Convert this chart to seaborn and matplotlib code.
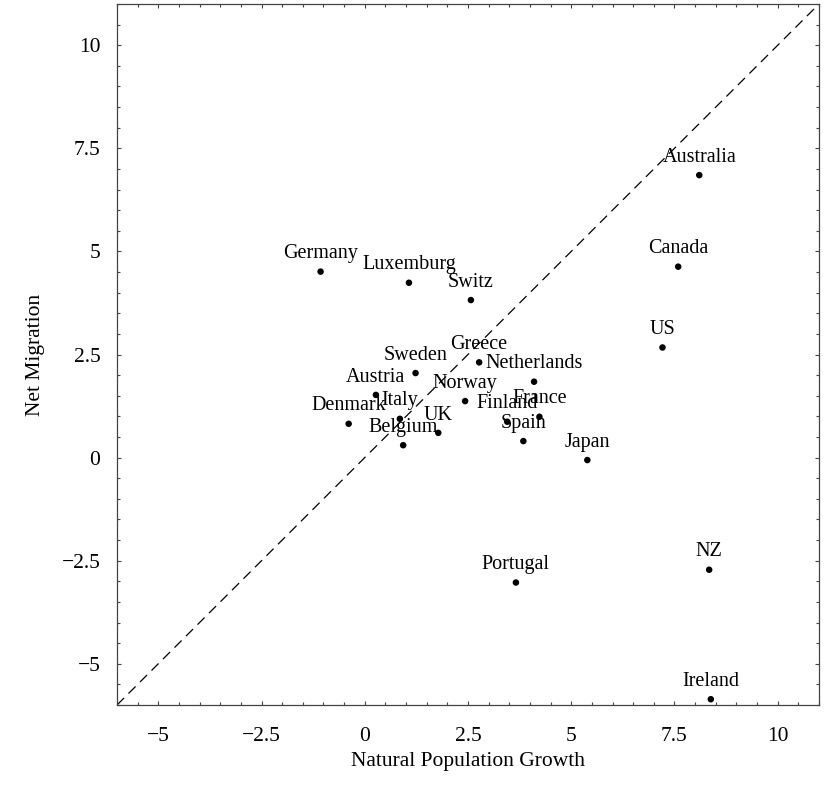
import matplotlib
matplotlib.use("Agg")
import matplotlib.pyplot as plt
from matplotlib.ticker import MultipleLocator
import seaborn as sns
import pandas as pd

countries = ["Germany", "Luxemburg", "Switz", "Greece", "Netherlands", "Sweden",
             "Austria", "Norway", "Italy", "Denmark", "UK", "Belgium", "France",
             "Finland", "Spain", "Japan", "Portugal", "Australia", "Canada", "US",
             "NZ", "Ireland"]
natural_growth = [-1.07, 1.07, 2.57, 2.77, 4.10, 1.23, 0.27, 2.43, 0.85, -0.39,
                  1.78, 0.93, 4.23, 3.45, 3.84, 5.39, 3.66, 8.10, 7.59, 7.21,
                  8.34, 8.38]
net_migration = [4.51, 4.24, 3.82, 2.31, 1.84, 2.05, 1.52, 1.37, 0.94, 0.82,
                 0.60, 0.30, 0.99, 0.87, 0.40, -0.06, -3.03, 6.85, 4.63, 2.67,
                 -2.72, -5.86]
axis_limits = [-6, 11]
major_step = 2.5
minor_step = 0.5
x_label = "Natural Population Growth"
y_label = "Net Migration"

df = pd.DataFrame({"country": countries, "growth": natural_growth,
                   "migration": net_migration})

sns.set_theme(style="ticks")
plt.rcParams["font.family"] = ["Liberation Serif", "DejaVu Serif"]
plt.rcParams["text.color"] = "black"
plt.rcParams["axes.labelcolor"] = "black"
plt.rcParams["xtick.labelcolor"] = "black"
plt.rcParams["ytick.labelcolor"] = "black"

fig = plt.figure(figsize=(8.25, 7.93), dpi=100)
ax = fig.add_axes([117 / 825, 1 - 705 / 793, (819 - 117) / 825, (705 - 4) / 793])

# diagonal reference line y = x
ax.plot(axis_limits, axis_limits, color="black", lw=0.9, ls=(0, (8, 5)), zorder=1)

sns.scatterplot(data=df, x="growth", y="migration", ax=ax, color="black",
                s=22, edgecolor="none", linewidth=0, zorder=3)

for _, r in df.iterrows():
    ax.annotate(r["country"], (r["growth"], r["migration"]), xytext=(0, 9.6),
                textcoords="offset points", ha="center", va="baseline",
                fontsize=14.5, color="black", zorder=4)

ax.set_xlim(axis_limits)
ax.set_ylim(axis_limits)
ax.xaxis.set_major_locator(MultipleLocator(major_step))
ax.yaxis.set_major_locator(MultipleLocator(major_step))
ax.xaxis.set_minor_locator(MultipleLocator(minor_step))
ax.yaxis.set_minor_locator(MultipleLocator(minor_step))


def fmt(v, pos):
    s = ("%g" % v)
    return s.replace("-", "\u2212")


ax.xaxis.set_major_formatter(fmt)
ax.yaxis.set_major_formatter(fmt)

ax.tick_params(which="both", direction="in", top=True, right=True,
               color="#444444", width=0.8)
ax.tick_params(which="major", length=3.2, labelsize=15.5)
ax.tick_params(axis="x", which="major", pad=16)
ax.tick_params(axis="y", which="major", pad=12)
ax.tick_params(which="minor", length=1.9)
for sp in ax.spines.values():
    sp.set_color("#444444")
    sp.set_linewidth(0.9)

ax.set_xlabel(x_label, fontsize=15.5, labelpad=4)
ax.set_ylabel(y_label, fontsize=15.5, labelpad=12)

fig.savefig("out.png", dpi=100, facecolor="white")
